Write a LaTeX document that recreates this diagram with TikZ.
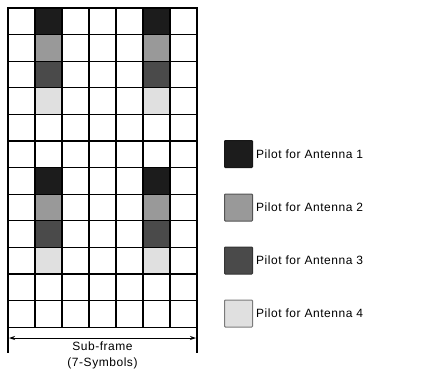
\documentclass[tikz,border=0pt]{standalone}
\usepackage{fontspec}
\setmainfont{Liberation Sans}[LetterSpace=4.5]
\usetikzlibrary{backgrounds,positioning,arrows.meta}
\definecolor{pA}{HTML}{1C1C1C}
\definecolor{pB}{HTML}{999999}
\definecolor{pC}{HTML}{4A4A4A}
\definecolor{pD}{HTML}{E0E0E0}
\begin{document}
\begin{tikzpicture}[x=1pt,y=-1pt,
  cell/.style={draw=black,line width=1.3pt,minimum width=27pt,minimum height=26.6pt,inner sep=0pt,outer sep=0pt},
  legbox/.style={line width=1pt,minimum width=28pt,minimum height=27pt,inner sep=0pt,rounded corners=0.8pt},
  legtext/.style={font=\fontsize{12}{14}\selectfont,inner sep=0pt},
  tick/.style={line width=1.3pt},
  dim/.style={line width=0.8pt,{Stealth[length=6pt,width=4pt]}-{Stealth[length=6pt,width=4pt]}},
  caption/.style={font=\fontsize{12}{16}\selectfont,align=center,inner sep=0pt}]
\useasboundingbox (0,0) rectangle (422,370);
% grid
\foreach \c in {0,...,6}{
  \foreach \r in {0,...,11}{
    \node[cell] (c\c-\r) at ({8+27*\c+13.5},{8+26.6*\r+13.3}) {};
  }
}
\begin{pgfonlayer}{background}
\foreach \c in {1,5}{
  \foreach \r/\k in {0/pA,1/pB,2/pC,3/pD,6/pA,7/pB,8/pC,9/pD}{
    \fill[\k] (c\c-\r.south west) rectangle (c\c-\r.north east);
  }
}
\end{pgfonlayer}
% dimension
\coordinate (tl) at (8,353);
\coordinate (tr) at (197,353);
\coordinate (al) at (9,338);
\coordinate (ar) at (196,338);
\draw[tick] (c0-11.south west) -- (tl);
\draw[tick] (c6-11.south east) -- (tr);
\draw[dim] (al) -- (ar);
\node[caption] (sf) at (102.5,355.5) {Sub-frame\\(7-Symbols)};
% legend
\node[legbox,fill=pA,draw=pA!80!black] (l1) at (238.5,154) {};
\node[legbox,fill=pB,draw=pB!55!black] (l2) at (238.5,207.5) {};
\node[legbox,fill=pC,draw=pC!70!black] (l3) at (238.5,260.5) {};
\node[legbox,fill=pD,draw=pD!55!black] (l4) at (238.5,313.5) {};
\node[legtext,right=3pt of l1] (t1) {Pilot for Antenna 1};
\node[legtext,right=3pt of l2] (t2) {Pilot for Antenna 2};
\node[legtext,right=3pt of l3] (t3) {Pilot for Antenna 3};
\node[legtext,right=3pt of l4] (t4) {Pilot for Antenna 4};
\end{tikzpicture}
\end{document}
